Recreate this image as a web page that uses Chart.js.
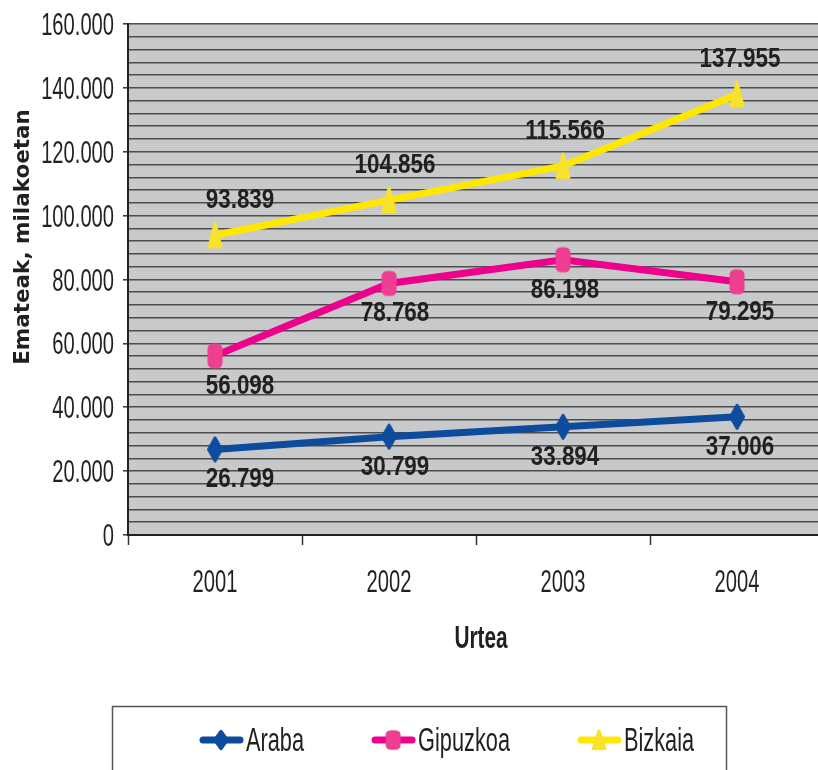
<!DOCTYPE html>
<html><head><meta charset="utf-8">
<script src="https://cdn.jsdelivr.net/npm/chart.js@4"></script>
<style>
html,body{margin:0;padding:0;background:#fff;overflow:hidden;}
canvas{display:block;}
</style>
</head><body>
<canvas id="c" width="818" height="770"></canvas>
<script>
// ---- data ----
const years = ['2001', '2002', '2003', '2004'];
const araba = [26799, 30799, 33894, 37006];
const gipuzkoa = [56098, 78768, 86198, 79295];
const bizkaia = [93839, 104856, 115566, 137955];
const seriesNames = ['Araba', 'Gipuzkoa', 'Bizkaia'];
const yAxisTitle = 'Emateak, milakoetan';
const xAxisTitle = 'Urtea';

// ---- styles ----
const SANS = "'Liberation Sans', Arial, sans-serif";
const TXT = '#231f20';
const labelNudgeX = [25, 6, 2, 3];
const labelAbove = 37, labelBelow = 28;
// the plot area is cut by the right edge of the picture: 3.9655 of 4 year slots are visible
const X_MIN = 2000.5, X_MAX = 2000.5 + 3.9655;

function fmt(v) {
  if (v === 0) return '0';
  return String(v).replace(/\B(?=(\d{3})+(?!\d))/g, '.');
}

// draws horizontally condensed text; y is the vertical centre of the capitals
function sText(ctx, str, x, yCenter, size, bold, sx, align) {
  ctx.save();
  ctx.font = (bold ? 'bold ' : '') + size + 'px ' + SANS;
  ctx.fillStyle = TXT;
  ctx.textAlign = align;
  ctx.textBaseline = 'alphabetic';
  ctx.translate(x, yCenter + size * 0.716 / 2);
  ctx.scale(sx, 1);
  ctx.fillText(str, 0, 0);
  const w = ctx.measureText(str).width * sx;
  ctx.restore();
  return w;
}

function makeMarker(kind, color) {
  const c = document.createElement('canvas');
  c.width = 18; c.height = 28;
  const g = c.getContext('2d');
  g.fillStyle = color; g.strokeStyle = color; g.lineJoin = 'round'; g.lineWidth = 3;
  g.beginPath();
  if (kind === 'diamond') {
    g.moveTo(9, 2.5); g.lineTo(15.5, 14); g.lineTo(9, 25.5); g.lineTo(2.5, 14); g.closePath();
  } else if (kind === 'square') {
    g.roundRect(3, 3, 12, 22, 4);
  } else {
    g.moveTo(9, 2); g.lineTo(15, 25.5); g.lineTo(3, 25.5); g.closePath();
  }
  g.fill(); g.stroke();
  return c;
}

const markers = [
  makeMarker('diamond', '#0e4c9e'),
  makeMarker('square', '#ee3f91'),
  makeMarker('triangle', '#f8e22c')
];
const lineColors = ['#0d4c9c', '#ec008c', '#ffe800'];
const labelPos = ['below', 'below', 'above'];

const decor = {
  id: 'decor',
  beforeDraw(chart) {
    const { ctx, chartArea: a } = chart;
    ctx.save();
    ctx.fillStyle = '#c8c9cb';
    ctx.fillRect(a.left, a.top, a.right - a.left, a.bottom - a.top);
    ctx.restore();
  },
  afterDatasetsDraw(chart) {
    const ctx = chart.ctx;
    chart.data.datasets.forEach((ds, di) => {
      const meta = chart.getDatasetMeta(di);
      meta.data.forEach((pt, i) => {
        const y = labelPos[di] === 'above' ? pt.y - labelAbove : pt.y + labelBelow;
        sText(ctx, fmt(ds.data[i]), pt.x + labelNudgeX[i], y, 28, true, 0.8, 'center');
      });
    });
  },
  afterDraw(chart) {
    const ctx = chart.ctx;
    const xs = chart.scales.x, ys = chart.scales.y;

    // y tick labels (every 20.000)
    ys.ticks.forEach((t) => {
      if (t.value % 20000 !== 0) return;
      sText(ctx, fmt(t.value), ys.right - 14, ys.getPixelForValue(t.value), 31, false, 0.65, 'right');
    });
    // x tick labels (year centres)
    chart.data.labels.forEach((lab) => {
      sText(ctx, lab, xs.getPixelForValue(Number(lab)), 581, 31, false, 0.65, 'center');
    });

    // y title
    ctx.save();
    ctx.translate(23, 237);
    ctx.rotate(-Math.PI / 2);
    ctx.font = 'bold 21.5px "DejaVu Sans", sans-serif';
    ctx.fillStyle = TXT;
    ctx.textAlign = 'center';
    ctx.textBaseline = 'middle';
    ctx.fillText(yAxisTitle, 0, 0);
    ctx.restore();

    // x title
    sText(ctx, xAxisTitle, 481, 637, 32, true, 0.65, 'center');

    // legend
    ctx.save();
    ctx.strokeStyle = '#555';
    ctx.lineWidth = 1.5;
    ctx.strokeRect(112.5, 706.5, 614, 90);
    ctx.restore();
    let x = 199;
    const ly = 740;
    chart.data.datasets.forEach((ds, di) => {
      ctx.save();
      ctx.strokeStyle = lineColors[di];
      ctx.lineWidth = 7;
      ctx.lineCap = 'round';
      ctx.beginPath();
      ctx.moveTo(x + 4, ly); ctx.lineTo(x + 41, ly); ctx.stroke();
      const m = markers[di];
      ctx.drawImage(m, x + 22 - m.width / 2, ly - (m.height - 6) / 2, m.width, m.height - 6);
      ctx.restore();
      const w = sText(ctx, ds.label, x + 47, ly - 1, 34, false, 0.64, 'left');
      x += 47 + w + 67;
    });
  }
};

const seriesData = [araba, gipuzkoa, bizkaia];

new Chart(document.getElementById('c'), {
  type: 'line',
  data: {
    labels: years,
    datasets: seriesNames.map((name, i) => ({
      label: name,
      data: seriesData[i],
      borderColor: lineColors[i],
      backgroundColor: lineColors[i],
      borderWidth: 7,
      tension: 0,
      pointStyle: markers[i],
      pointRadius: 10,
      pointHoverRadius: 10,
      fill: false
    }))
  },
  options: {
    responsive: false,
    animation: false,
    devicePixelRatio: 1,
    layout: { autoPadding: false, padding: { left: 0, top: 24, right: 0, bottom: 0 } },
    plugins: {
      legend: { display: false },
      tooltip: { enabled: false },
      title: { display: false }
    },
    scales: {
      x: {
        type: 'linear',
        min: X_MIN,
        max: X_MAX,
        afterFit(scale) { scale.height = 235; },
        afterBuildTicks(scale) {
          // tick marks on the boundaries between years
          scale.ticks = years.map((y) => ({ value: Number(y) - 0.5 }));
        },
        grid: {
          drawOnChartArea: false,
          drawTicks: true,
          tickLength: 10,
          tickColor: '#333',
          tickWidth: 1.5
        },
        border: { display: true, color: '#222', width: 2 },
        ticks: { display: false }
      },
      y: {
        min: 0,
        max: 160000,
        afterFit(scale) { scale.width = 128; },
        grid: {
          color: '#4d4d4d',
          lineWidth: 1.6,
          drawTicks: true,
          tickLength: 5,
          tickColor: (ctx) => (ctx.tick && ctx.tick.value % 20000 === 0) ? '#333' : 'rgba(0,0,0,0)',
          tickWidth: 1.5
        },
        border: { display: true, color: '#222', width: 2 },
        ticks: {
          display: false,
          stepSize: 4000,
          autoSkip: false
        }
      }
    }
  },
  plugins: [decor]
});
</script>
</body></html>
